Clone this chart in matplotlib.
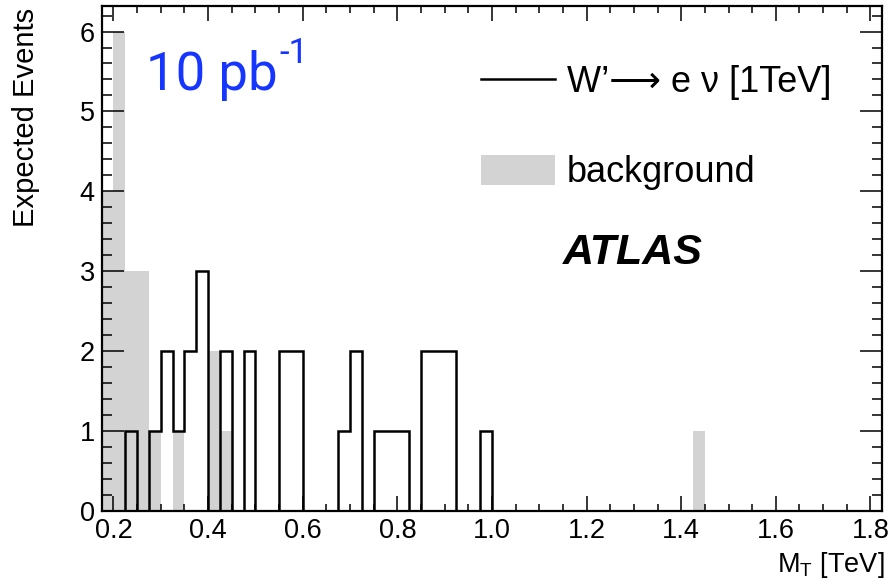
#!/usr/bin/env python3

import numpy as np
import matplotlib
matplotlib.use("Agg")
import matplotlib.pyplot as plt
from matplotlib.ticker import MultipleLocator, FormatStrFormatter
from matplotlib.lines import Line2D
from matplotlib.patches import Patch

plt.rcParams["font.family"] = ["Liberation Sans", "DejaVu Sans"]
plt.rcParams["mathtext.fontset"] = "custom"
plt.rcParams["mathtext.rm"] = "Liberation Sans"
plt.rcParams["mathtext.it"] = "Liberation Sans:italic"
plt.rcParams["mathtext.bf"] = "Liberation Sans:bold"

# histogram binning (TeV)
mt_low = 0.175
mt_high = 1.825
bin_width = 0.025

# W' -> e nu (1 TeV) signal: bin centres and entries
sig_mt = [0.2375, 0.2875, 0.3125, 0.3375, 0.3625, 0.3875, 0.4375, 0.4875,
          0.5625, 0.5875, 0.6875, 0.7125, 0.7625, 0.7875, 0.8125, 0.8625,
          0.8875, 0.9125, 0.9875]
sig_counts = [1, 1, 2, 1, 2, 3, 2, 2, 2, 2, 1, 2, 1, 1, 1, 2, 2, 2, 1]

# background: bin centres and entries
bkg_mt = [0.1875, 0.2125, 0.2375, 0.2625, 0.2875, 0.3375, 0.4125, 0.4375, 1.4375]
bkg_counts = [4, 6, 3, 3, 1, 1, 2, 1, 1]

xticks = [0.2, 0.4, 0.6, 0.8, 1.0, 1.2, 1.4, 1.6, 1.8]
yticks = [0, 1, 2, 3, 4, 5, 6]

edges = np.arange(mt_low, mt_high + bin_width/2, bin_width)
bkg_color = "#d3d3d3"

fig = plt.figure(figsize=(8.91, 5.80), dpi=100)
ax = fig.add_axes([0.1141, 0.1195, 0.8761, 0.8702])

ax.hist(bkg_mt, bins=edges, weights=bkg_counts, histtype="stepfilled",
        color=bkg_color, zorder=1)
ax.hist(sig_mt, bins=edges, weights=sig_counts, histtype="step",
        color="black", linewidth=1.8, zorder=2)

ax.set_xlim(mt_low, mt_high)
ax.set_ylim(0, 6.32)
ax.set_xticks(xticks)
ax.set_yticks(yticks)
ax.xaxis.set_major_formatter(FormatStrFormatter("%.1f"))
ax.xaxis.set_minor_locator(MultipleLocator(0.05))
ax.yaxis.set_minor_locator(MultipleLocator(0.2))
ax.tick_params(axis="both", which="both", direction="in", top=True, right=True,
               labelsize=19.5, width=1.1)
ax.tick_params(axis="x", which="major", length=11, pad=5)
ax.tick_params(axis="x", which="minor", length=5)
ax.tick_params(axis="y", which="major", length=16, pad=5)
ax.tick_params(axis="y", which="minor", length=7)
for sp in ax.spines.values():
    sp.set_linewidth(1.6)
    sp.set_zorder(5)

ax.set_xlabel(r"M$_\mathrm{T}$ [TeV]", fontsize=19.5, loc="right")
ax.xaxis.set_label_coords(1.0035, -0.078)
ax.xaxis.label.set_va("top")
ax.set_ylabel("Expected Events", fontsize=21, loc="top")
ax.yaxis.set_label_coords(-0.079, 0.996)

handles = [Line2D([], [], color="black", linewidth=1.8),
           Patch(facecolor=bkg_color, edgecolor="none")]
labels = ["W\u2019\u27f6 e \u03bd [1TeV]", "background"]
ax.legend(handles, labels, loc="upper left", bbox_to_anchor=(0.486, 0.883),
          frameon=False, fontsize=26, borderpad=0, borderaxespad=0,
          handlelength=2.05, handleheight=0.9, handletextpad=0.33,
          labelspacing=1.5)

ax.text(0.591, 0.5107, "ATLAS", transform=ax.transAxes, fontsize=31,
        fontweight="bold", fontstyle="italic", va="center", ha="left")

lumi = ax.text(0.0566, 0.8336, "10 pb", transform=ax.transAxes, fontsize=38,
               family="Roboto", color="#1636ff", va="baseline", ha="left")
ax.annotate("-1", xy=(1.0, 0.93), xycoords=lumi, xytext=(1.5, 0),
            textcoords="offset points", fontsize=25, family="Roboto",
            color="#1636ff", va="center", ha="left")

fig.savefig("out.png", dpi=100)
